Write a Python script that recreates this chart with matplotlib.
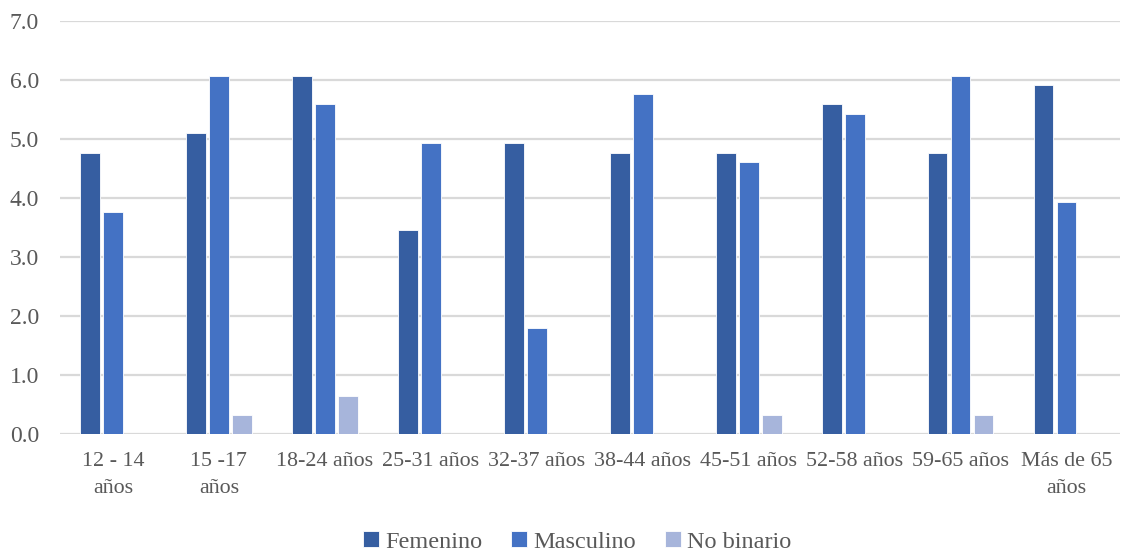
import matplotlib.pyplot as plt
import numpy as np

# age groups and shares per gender
categories = ["12 - 14\naños", "15 -17\naños", "18-24 años", "25-31 años", "32-37 años",
              "38-44 años", "45-51 años", "52-58 años", "59-65 años", "Más de 65\naños"]
femenino = [4.77, 5.10, 6.07, 3.46, 4.93, 4.77, 4.77, 5.60, 4.77, 5.92]
masculino = [3.77, 6.07, 5.60, 4.93, 1.79, 5.76, 4.61, 5.42, 6.07, 3.94]
no_binario = [0.0, 0.32, 0.64, 0.0, 0.0, 0.0, 0.32, 0.0, 0.32, 0.0]

series = [("Femenino", femenino, "#365EA1"),
          ("Masculino", masculino, "#4472C4"),
          ("No binario", no_binario, "#A7B5DB")]

plt.rcParams['font.family'] = ['Liberation Serif', 'DejaVu Serif']

fig = plt.figure(figsize=(11.23, 5.53), dpi=100)
ax = fig.add_axes([0.0534, 0.2152, 0.9436, 0.7463])

x = np.arange(len(categories))
step = 0.217
width = 0.185
for i, (name, vals, color) in enumerate(series):
    ax.bar(x + (i - 1) * step, vals, width, color=color, label=name,
           edgecolor="white", linewidth=0.6, zorder=3)

ax.set_xlim(-0.5, len(categories) - 0.5)
ax.set_ylim(0, 7)
ax.set_yticks(np.arange(0, 7.1, 1.0))
ax.set_yticklabels([f"{v:.1f}" for v in np.arange(0, 7.1, 1.0)])
ax.grid(axis="y", color="#d9d9d9", linewidth=1.6, zorder=0)
ax.set_axisbelow(True)
for s in ax.spines.values():
    s.set_visible(False)

ax.set_xticks(x)
ax.set_xticklabels(categories, linespacing=1.55)
ax.tick_params(axis="y", length=0, pad=15, labelsize=17, labelcolor="#595959")
ax.tick_params(axis="x", length=0, pad=13, labelsize=15.8, labelcolor="#595959")

fig.legend(loc="center", bbox_to_anchor=(0.514, 0.02), ncol=3, frameon=False,
           fontsize=17.5, labelcolor="#595959", handlelength=0.65, handleheight=0.65,
           handletextpad=0.25, columnspacing=1.2)

fig.savefig("out.png", dpi=100)
